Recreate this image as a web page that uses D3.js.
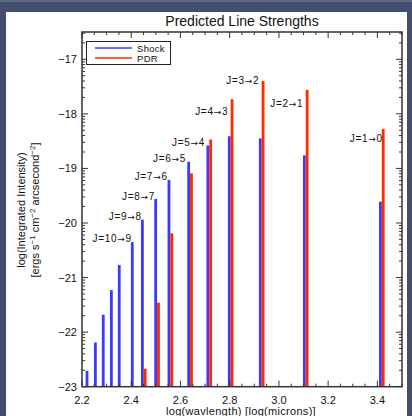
<!DOCTYPE html>
<html>
<head>
<meta charset="utf-8">
<script src="https://cdn.jsdelivr.net/npm/d3@7"></script>
<style>
  html, body { margin: 0; padding: 0; background: #414e6d; }
  #chart { width: 412px; height: 416px; }
  text { font-family: "Liberation Sans", Arial, sans-serif; fill: #111; }
</style>
</head>
<body>
<div id="chart"></div>
<script>
// log10 of wavelength in microns, one entry per CO line (J=15->14 ... J=1->0)
var logWave = [2.226, 2.260, 2.292, 2.325, 2.357, 2.410, 2.451, 2.505, 2.559, 2.639, 2.717, 2.804, 2.930, 3.109, 3.418];
var shock = [-22.71, -22.19, -21.68, -21.23, -20.77, -20.35, -19.94, -19.56, -19.21, -18.88, -18.58, -18.41, -18.45, -18.76, -19.61];
var pdr = [null, null, null, null, null, null, -22.67, -21.46, -20.19, -19.09, -18.47, -17.73, -17.40, -17.56, -18.28];

var lineLabels = ["J=10\u21929", "J=9\u21928", "J=8\u21927", "J=7\u21926", "J=6\u21925", "J=5\u21924", "J=4\u21923", "J=3\u21922", "J=2\u21921", "J=1\u21920"];
var labelX = [2.402, 2.443, 2.497, 2.548, 2.623, 2.700, 2.794, 2.920, 3.099, 3.422];
var labelY = [-20.35, -19.95, -19.57, -19.21, -18.88, -18.59, -18.02, -17.46, -17.87, -18.51];

var xTicks = [2.2, 2.4, 2.6, 2.8, 3.0, 3.2, 3.4];
var yTicks = [-23, -22, -21, -20, -19, -18, -17];

var w = 412, h = 416;
var blue = "#3a3aff", red = "#ff2a00", axisColor = "#333";

var x = d3.scaleLinear().domain([2.2, 3.5]).range([82, 402]);
var y = d3.scaleLinear().domain([-23, -16.5]).range([386.7, 32]);

var svg = d3.select("#chart").append("svg")
  .attr("width", w)
  .attr("height", h);

// white panel over the dark frame
svg.append("rect").attr("x", 6).attr("y", 12).attr("width", 401).attr("height", 404).attr("fill", "#fff");
svg.append("rect").attr("x", 0).attr("y", 0).attr("width", w).attr("height", 2).attr("fill", "#5d6784");

// bars
var barW = 2.8;
svg.append("g").selectAll("rect")
  .data(logWave)
  .enter().append("rect")
  .attr("x", function(d) { return x(d) - barW; })
  .attr("y", function(d, i) { return y(shock[i]); })
  .attr("width", barW)
  .attr("height", function(d, i) { return y(-23) - y(shock[i]); })
  .attr("fill", blue);

svg.append("g").selectAll("rect")
  .data(logWave.filter(function(d, i) { return pdr[i] !== null; }))
  .enter().append("rect")
  .attr("x", function(d) { return x(d); })
  .attr("y", function(d) { return y(pdr[logWave.indexOf(d)]); })
  .attr("width", barW)
  .attr("height", function(d) { return y(-23) - y(pdr[logWave.indexOf(d)]); })
  .attr("fill", red);

// line labels, arrow drawn from DejaVu so it reads like the original
svg.append("g").selectAll("text")
  .data(lineLabels)
  .enter().append("text")
  .attr("x", function(d, i) { return x(labelX[i]); })
  .attr("y", function(d, i) { return y(labelY[i]); })
  .attr("text-anchor", "end")
  .attr("font-size", "10px")
  .attr("letter-spacing", "0.7px")
  .each(function(d) {
    var parts = d.split("\u2192");
    var t = d3.select(this);
    t.append("tspan").text(parts[0]);
    t.append("tspan").attr("font-family", "DejaVu Sans").attr("font-size", "9px").text("\u2192");
    t.append("tspan").text(parts[1]);
  });

// minor ticks
var xMinor = d3.range(2.2, 3.5001, 0.05).map(function(d) { return +d.toFixed(2); });
var yMinor = [];
d3.range(-24, -16).forEach(function(n) {
  for (var k = 2; k <= 9; k++) {
    var v = n + Math.log10(k);
    if (v > -23 && v < -16.5) yMinor.push(v);
  }
});

var ticks = svg.append("g").attr("stroke", axisColor).attr("stroke-width", 1);
xMinor.forEach(function(d) {
  var len = xTicks.some(function(t) { return Math.abs(t - d) < 1e-6; }) ? 6 : 3;
  ticks.append("line").attr("x1", x(d)).attr("x2", x(d)).attr("y1", y(-23)).attr("y2", y(-23) - len);
  ticks.append("line").attr("x1", x(d)).attr("x2", x(d)).attr("y1", y(-16.5)).attr("y2", y(-16.5) + len);
});
yTicks.concat(yMinor).forEach(function(d, i) {
  var len = i < yTicks.length ? 6 : 3;
  ticks.append("line").attr("x1", x(2.2)).attr("x2", x(2.2) + len).attr("y1", y(d)).attr("y2", y(d));
  ticks.append("line").attr("x1", x(3.5)).attr("x2", x(3.5) - len).attr("y1", y(d)).attr("y2", y(d));
});

// frame
svg.append("rect")
  .attr("x", x(2.2)).attr("y", y(-16.5))
  .attr("width", x(3.5) - x(2.2)).attr("height", y(-23) - y(-16.5))
  .attr("fill", "none").attr("stroke", axisColor).attr("stroke-width", 1.5);

// tick labels
svg.append("g").selectAll("text")
  .data(xTicks)
  .enter().append("text")
  .attr("x", function(d) { return x(d); })
  .attr("y", 404)
  .attr("text-anchor", "middle")
  .attr("font-size", "11px")
  .text(function(d) { return d.toFixed(1); });

svg.append("g").selectAll("text")
  .data(yTicks)
  .enter().append("text")
  .attr("x", 77)
  .attr("y", function(d) { return y(d) + 4; })
  .attr("text-anchor", "end")
  .attr("font-size", "11px")
  .text(function(d) { return "\u2212" + Math.abs(d); });

// titles
svg.append("text")
  .attr("x", 242).attr("y", 26)
  .attr("text-anchor", "middle")
  .attr("font-size", "14px")
  .text("Predicted Line Strengths");

svg.append("text")
  .attr("x", 241).attr("y", 415)
  .attr("text-anchor", "middle")
  .attr("font-size", "11px")
  .attr("letter-spacing", "0.3px")
  .text("log(wavlength) [log(microns)]");

svg.append("text")
  .attr("transform", "translate(25,210) rotate(-90)")
  .attr("text-anchor", "middle")
  .attr("font-size", "11px")
  .text("log(Integrated Intensity)");

var yt2 = svg.append("text")
  .attr("transform", "translate(39,210) rotate(-90)")
  .attr("text-anchor", "middle")
  .attr("font-size", "11px");
yt2.append("tspan").text("[ergs s");
yt2.append("tspan").attr("dy", -4).attr("font-size", "8px").text("\u22121");
yt2.append("tspan").attr("dy", 4).text(" cm");
yt2.append("tspan").attr("dy", -4).attr("font-size", "8px").text("\u22122");
yt2.append("tspan").attr("dy", 4).text(" arcsecond");
yt2.append("tspan").attr("dy", -4).attr("font-size", "8px").text("\u22122");
yt2.append("tspan").attr("dy", 4).text("]");

// legend
var legend = svg.append("g");
legend.append("rect")
  .attr("x", 86.5).attr("y", 41.5).attr("width", 84).attr("height", 23)
  .attr("fill", "#fff").attr("stroke", "#222").attr("stroke-width", 1);
[["Shock", blue], ["PDR", red]].forEach(function(s, i) {
  legend.append("line")
    .attr("x1", 95).attr("x2", 132)
    .attr("y1", 48 + i * 10).attr("y2", 48 + i * 10)
    .attr("stroke", s[1]).attr("stroke-width", 1.3);
  legend.append("text")
    .attr("x", 137).attr("y", 51.5 + i * 10.5)
    .attr("font-size", "9.5px")
    .attr("letter-spacing", "0.3px")
    .text(s[0]);
});
</script>
</body>
</html>
